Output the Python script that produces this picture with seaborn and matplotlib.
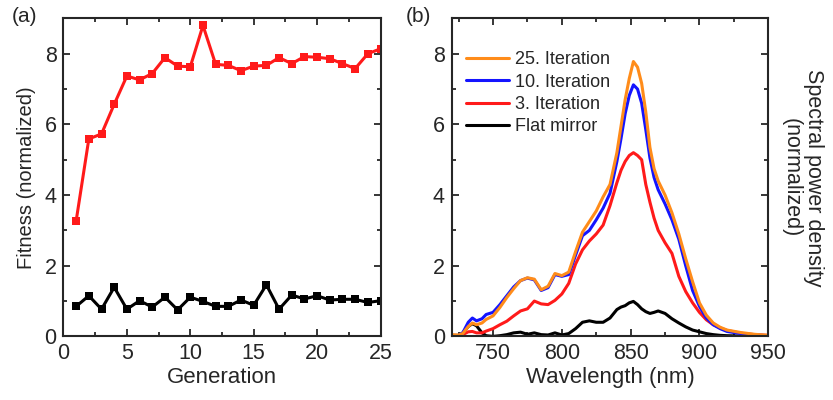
import matplotlib
matplotlib.use("Agg")
import matplotlib.pyplot as plt
import seaborn as sns
import pandas as pd
from matplotlib.ticker import MultipleLocator
from matplotlib.lines import Line2D

# ---------------- data ----------------
generation = list(range(1, 26))
fitness_optimized = [3.27, 5.59, 5.73, 6.57, 7.37, 7.26, 7.44, 7.89, 7.65, 7.63,
                     8.80, 7.70, 7.67, 7.52, 7.65, 7.67, 7.89, 7.72, 7.92, 7.90,
                     7.86, 7.72, 7.58, 8.00, 8.14]
fitness_flat = [0.85, 1.15, 0.77, 1.39, 0.77, 1.01, 0.83, 1.11, 0.75, 1.11,
                0.99, 0.85, 0.85, 1.03, 0.88, 1.46, 0.77, 1.17, 1.06, 1.15,
                1.03, 1.05, 1.05, 0.96, 1.01]

wavelength = [720, 725, 728, 732, 735, 738, 742, 745, 750, 755, 760, 765, 770,
              775, 780, 785, 790, 795, 800, 805, 810, 815, 820, 825, 830, 835,
              840, 843, 846, 849, 852, 855, 858, 861, 864, 867, 870, 875, 880,
              885, 890, 895, 900, 905, 910, 915, 920, 930, 940, 950]
spec_iter25 = [0.05, 0.04, 0.08, 0.28, 0.38, 0.33, 0.38, 0.48, 0.58, 0.82, 1.10,
               1.35, 1.58, 1.66, 1.62, 1.32, 1.42, 1.78, 1.72, 1.82, 2.40, 2.95,
               3.25, 3.55, 3.95, 4.30, 5.20, 5.95, 6.70, 7.30, 7.78, 7.62, 7.16,
               6.35, 5.35, 4.75, 4.40, 4.00, 3.50, 2.90, 2.20, 1.55, 0.95, 0.60,
               0.38, 0.26, 0.18, 0.11, 0.06, 0.03]
spec_iter10 = [0.03, 0.03, 0.10, 0.40, 0.52, 0.44, 0.50, 0.62, 0.68, 0.90, 1.15,
               1.40, 1.58, 1.65, 1.60, 1.30, 1.38, 1.75, 1.70, 1.75, 2.30, 2.85,
               3.00, 3.30, 3.63, 4.05, 4.95, 5.60, 6.30, 6.82, 7.12, 7.00, 6.60,
               5.85, 5.05, 4.50, 4.15, 3.75, 3.30, 2.75, 2.00, 1.30, 0.85, 0.52,
               0.33, 0.22, 0.14, 0.08, 0.04, 0.02]
spec_iter3 = [0.02, 0.02, 0.05, 0.13, 0.14, 0.10, 0.10, 0.15, 0.22, 0.33, 0.43,
              0.58, 0.72, 0.78, 1.00, 0.92, 0.90, 1.02, 1.20, 1.50, 2.05, 2.45,
              2.70, 2.90, 3.15, 3.70, 4.35, 4.70, 4.95, 5.12, 5.20, 5.12, 5.00,
              4.30, 3.80, 3.35, 3.00, 2.65, 2.35, 1.70, 1.27, 0.95, 0.68, 0.47,
              0.33, 0.24, 0.17, 0.09, 0.05, 0.03]
spec_flat = [0.00, 0.02, 0.10, 0.28, 0.36, 0.30, 0.10, 0.02, 0.00, 0.02, 0.05,
             0.10, 0.12, 0.06, 0.10, 0.05, 0.04, 0.10, 0.04, 0.08, 0.22, 0.40,
             0.44, 0.40, 0.40, 0.52, 0.76, 0.83, 0.87, 0.95, 0.99, 0.90, 0.78,
             0.70, 0.65, 0.68, 0.72, 0.65, 0.50, 0.38, 0.27, 0.18, 0.13, 0.08,
             0.05, 0.03, 0.02, 0.01, 0.00, 0.00]

series_labels = ["25. Iteration", "10. Iteration", "3. Iteration", "Flat mirror"]
series_colors = ["#ff8c1a", "#1414ff", "#ff1a1a", "#000000"]

# ---------------- style ----------------
sns.set_style("ticks")
plt.rcParams["font.family"] = ["Liberation Sans", "DejaVu Sans"]
plt.rcParams["axes.linewidth"] = 1.5

fig = plt.figure(figsize=(8.33, 4.0), dpi=100)
ax1 = fig.add_axes([0.0762, 0.159, 0.3806, 0.795])
ax2 = fig.add_axes([0.5423, 0.159, 0.3800, 0.795])

df_fit = pd.DataFrame({"Generation": generation,
                       "opt": fitness_optimized,
                       "flat": fitness_flat})
sns.lineplot(data=df_fit, x="Generation", y="opt", ax=ax1, color="#ff1a1a",
             lw=2.2, marker="s", markersize=5.5, markeredgewidth=0)
sns.lineplot(data=df_fit, x="Generation", y="flat", ax=ax1, color="black",
             lw=2.2, marker="s", markersize=5.5, markeredgewidth=0)
ax1.set_xlim(0, 25)
ax1.set_ylim(0, 9)
ax1.xaxis.set_major_locator(MultipleLocator(5))
ax1.xaxis.set_minor_locator(MultipleLocator(2.5))
ax1.yaxis.set_major_locator(MultipleLocator(2))
ax1.yaxis.set_minor_locator(MultipleLocator(1))
ax1.set_xlabel("Generation", fontsize=16, labelpad=2)
ax1.set_ylabel("Fitness (normalized)", fontsize=14.5, labelpad=6)

df_spec = pd.DataFrame({"wl": wavelength, "s25": spec_iter25, "s10": spec_iter10,
                        "s3": spec_iter3, "flat": spec_flat})
for col, c in zip(["flat", "s3", "s10", "s25"], series_colors[::-1]):
    sns.lineplot(data=df_spec, x="wl", y=col, ax=ax2, color=c, lw=2.2)
ax2.set_xlim(720, 950)
ax2.set_ylim(0, 9)
ax2.xaxis.set_major_locator(MultipleLocator(50))
ax2.xaxis.set_minor_locator(MultipleLocator(25))
ax2.yaxis.set_major_locator(MultipleLocator(2))
ax2.yaxis.set_minor_locator(MultipleLocator(1))
ax2.set_xlabel("Wavelength (nm)", fontsize=16, labelpad=2)
ax2.yaxis.set_label_position("right")
ax2.set_ylabel("Spectral power density\n(normalized)", fontsize=15.5,
               rotation=270, labelpad=40, linespacing=1.1)

handles = [Line2D([], [], color=c, lw=2.2) for c in series_colors]
ax2.legend(handles, series_labels, loc="upper left", frameon=False,
           bbox_to_anchor=(0.045, 0.897), borderpad=0, borderaxespad=0,
           fontsize=13, handlelength=2.4, handletextpad=0.3, labelspacing=0.3)

for ax in (ax1, ax2):
    ax.tick_params(which="both", direction="in", top=True, right=True,
                   labelsize=15.5, width=1.3, pad=5)
    ax.tick_params(which="major", length=5)
    ax.tick_params(which="minor", length=3)
    for s in ax.spines.values():
        s.set_linewidth(1.5)

fig.text(0.029, 0.96, "(a)", fontsize=15, ha="center", va="center")
fig.text(0.502, 0.96, "(b)", fontsize=15, ha="center", va="center")

fig.savefig("out.png", dpi=100)
